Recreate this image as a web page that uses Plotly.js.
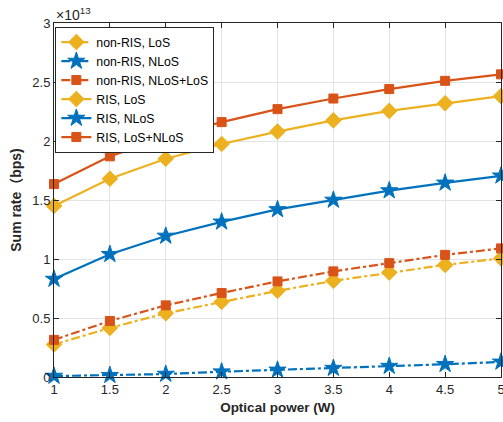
<!DOCTYPE html>
<html><head><meta charset="utf-8">
<script src="https://cdn.plot.ly/plotly-3.0.1.min.js"></script>
<style>html,body{margin:0;padding:0;background:#fff}#plot{width:503px;height:422px}</style>
</head><body><div id="plot"></div>
<script>
const power = [1, 1.5, 2, 2.5, 3, 3.5, 4, 4.5, 5];
// Sum rate in units of 1e13 bps
const nonRisLoS = [0.275, 0.416, 0.54, 0.637, 0.73, 0.815, 0.885, 0.95, 1.005];
const nonRisNLoS = [0.008, 0.015, 0.025, 0.045, 0.06, 0.075, 0.092, 0.108, 0.128];
const nonRisNLoSLoS = [0.315, 0.475, 0.607, 0.712, 0.81, 0.895, 0.965, 1.035, 1.09];
const risLoS = [1.45, 1.68, 1.85, 1.975, 2.08, 2.175, 2.255, 2.32, 2.38];
const risNLoS = [0.83, 1.04, 1.195, 1.315, 1.42, 1.50, 1.58, 1.645, 1.705];
const risLoSNLoS = [1.635, 1.87, 2.035, 2.16, 2.27, 2.36, 2.44, 2.51, 2.565];
const names = ['non-RIS, LoS', 'non-RIS, NLoS', 'non-RIS, NLoS+LoS', 'RIS, LoS', 'RIS, NLoS', 'RIS, LoS+NLoS'];
const yTicks = [0, 0.5, 1, 1.5, 2, 2.5, 3];
const yTickText = ['0', '0.5', '1', '1.5', '2', '2.5', '3'];
const xTicks = [1, 1.5, 2, 2.5, 3, 3.5, 4, 4.5, 5];

const blue = '#0072BD', orange = '#D95319', yellow = '#EDB120';
function tr(y, name, color, sym, dash, size) {
  return {x: power, y: y, name: name, type: 'scatter', mode: 'lines+markers', cliponaxis: false,
    line: {color: color, width: 2.2, dash: dash},
    marker: {symbol: sym, size: size, color: color, line: {color: color, width: 1}}};
}
const data = [
  tr(nonRisLoS, names[0], yellow, 'diamond', 'dashdot', 12),
  tr(nonRisNLoS, names[1], blue, 'star', 'dashdot', 13),
  tr(nonRisNLoSLoS, names[2], orange, 'square', 'dashdot', 9),
  tr(risLoS, names[3], yellow, 'diamond', 'solid', 12),
  tr(risNLoS, names[4], blue, 'star', 'solid', 13),
  tr(risLoSNLoS, names[5], orange, 'square', 'solid', 9)
];
const fam = 'Liberation Sans, Arial, Noto Sans CJK SC, sans-serif';
const fnt = {family: fam, size: 13, color: '#262626'};
const layout = {
  width: 503, height: 422,
  margin: {l: 54, r: 2, t: 23, b: 45},
  paper_bgcolor: '#fff', plot_bgcolor: '#fff',
  font: fnt,
  showlegend: true,
  legend: {x: 0.003, y: 0.99, xanchor: 'left', yanchor: 'top', bgcolor: '#fff',
    bordercolor: '#262626', borderwidth: 1, font: {family: fam, size: 12.3, color: '#000'},
    tracegroupgap: 0, itemwidth: 30},
  xaxis: {range: [1, 5], tickvals: xTicks, ticktext: xTicks.map(String), ticks: 'inside', ticklen: 5,
    tickcolor: '#262626', showline: true, linecolor: '#262626', linewidth: 1, mirror: 'ticks',
    showgrid: true, gridcolor: '#e3e3e3', zeroline: false, ticklabeloverflow: 'allow',
    tickfont: {family: fam, size: 13, color: '#262626'},
    title: {text: '<b>Optical power (W)</b>', font: {family: fam, size: 13.5, color: '#262626'}, standoff: 6}},
  yaxis: {range: [0, 3], tickvals: yTicks, ticktext: yTickText, ticks: 'inside', ticklen: 5,
    tickcolor: '#262626', showline: true, linecolor: '#262626', linewidth: 1, mirror: 'ticks',
    showgrid: true, gridcolor: '#e3e3e3', zeroline: false,
    tickfont: {family: fam, size: 13, color: '#262626'},
    title: {text: '<b>Sum rate（bps)</b>', font: {family: fam, size: 14, color: '#262626'}, standoff: 7}},
  annotations: [{xref: 'paper', yref: 'paper', x: 0, y: 1, xanchor: 'left', yanchor: 'bottom',
    text: '×10<sup>13</sup>', showarrow: false, font: {family: fam, size: 14, color: '#262626'}, yshift: -2}]
};
Plotly.newPlot('plot', data, layout, {displayModeBar: false, staticPlot: true});
</script></body></html>
